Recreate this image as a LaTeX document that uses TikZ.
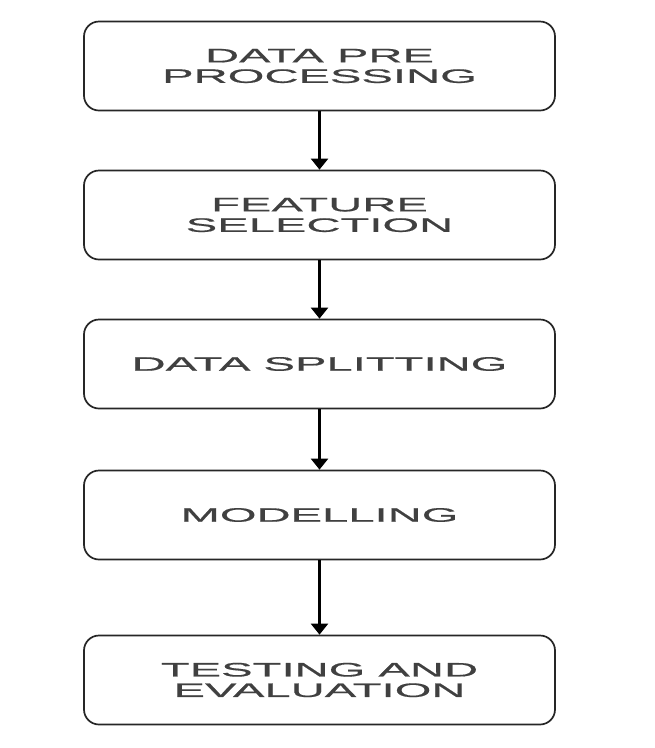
\documentclass[tikz,border=0pt]{standalone}
\usepackage{fontspec}
\newfontfamily\widefont[FakeStretch=2.42,FakeBold=0.6]{Liberation Sans}
\usetikzlibrary{arrows.meta}
\begin{document}
\begin{tikzpicture}[x=1pt,y=-1pt,
  stepbox/.style={draw=black!85, line width=1.7pt, rounded corners=15pt,
    minimum width=471pt, minimum height=89pt, inner sep=0pt,
    align=center, text=black!75, font=\widefont\fontsize{19.5}{20.5}\selectfont},
  flow/.style={-{Triangle[width=17pt,length=11pt]}, line width=2.2pt, black}]
\useasboundingbox (0,0) rectangle (655,748);
\fill[white] (0,0) rectangle (655,748);
\node[stepbox] (a) at (319.5,66) {DATA PRE\\PROCESSING};
\node[stepbox] (b) at (319.5,215) {FEATURE\\SELECTION};
\node[stepbox] (c) at (319.5,364) {DATA SPLITTING};
\node[stepbox] (d) at (319.5,515) {MODELLING};
\node[stepbox] (e) at (319.5,680) {TESTING AND\\EVALUATION};
\draw[flow] (a.south) -- (b.north);
\draw[flow] (b.south) -- (c.north);
\draw[flow] (c.south) -- (d.north);
\draw[flow] (d.south) -- (e.north);
\end{tikzpicture}
\end{document}
